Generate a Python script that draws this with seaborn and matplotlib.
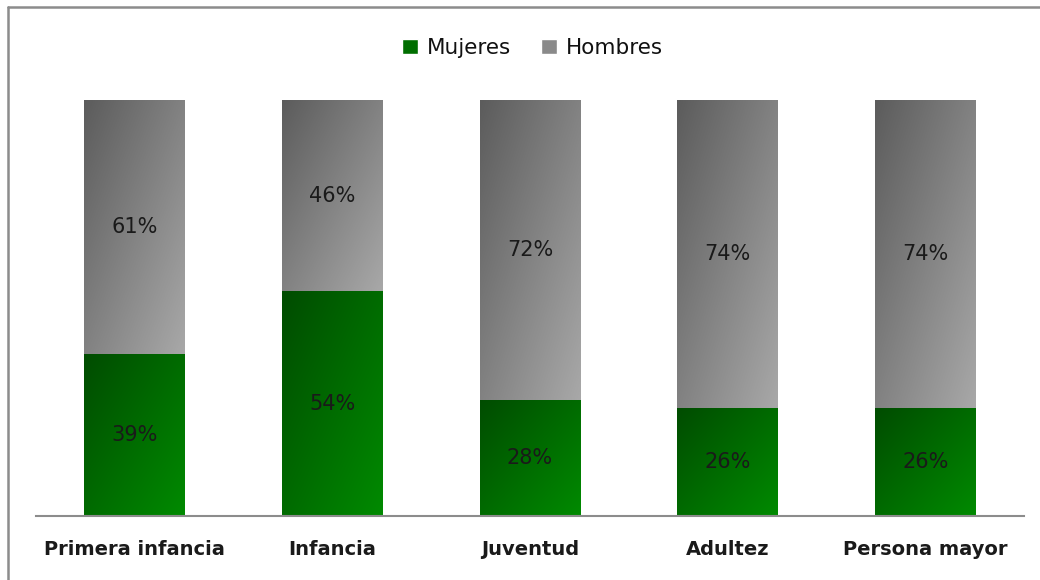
import numpy as np
import pandas as pd
import matplotlib
matplotlib.use("Agg")
import matplotlib.pyplot as plt
import seaborn as sns
from matplotlib.patches import Patch
from matplotlib.lines import Line2D
from matplotlib.colors import LinearSegmentedColormap

categories = ["Primera infancia", "Infancia", "Juventud", "Adultez", "Persona mayor"]
mujeres = [39, 54, 28, 26, 26]
hombres = [61, 46, 72, 74, 74]

df = pd.DataFrame({"Grupo": categories, "Mujeres": mujeres, "Hombres": hombres})
df["Total"] = df["Mujeres"] + df["Hombres"]

sns.set_style("white")
plt.rcParams["font.family"] = ["DejaVu Sans"]

fig = plt.figure(figsize=(10.4, 5.8), dpi=100)
ax = fig.add_axes([36 / 1040, 64 / 580, 988 / 1040, 416 / 580])

# stacked bars: total first (hombres on top), then mujeres
sns.barplot(data=df, x="Grupo", y="Total", color="#8a8a8a", width=0.51,
            saturation=1, ax=ax)
sns.barplot(data=df, x="Grupo", y="Mujeres", color="#007000", width=0.51,
            saturation=1, ax=ax)

gray_cmap = LinearSegmentedColormap.from_list("g", ["#5c5c5c", "#a8a8a8"])
green_cmap = LinearSegmentedColormap.from_list("v", ["#004c00", "#008a00"])

n = len(categories)
bars = list(ax.patches)
for i, p in enumerate(bars):
    cmap = gray_cmap if i < n else green_cmap
    x0, y0 = p.get_x(), p.get_y()
    w, h = p.get_width(), p.get_height()
    if i < n:
        # gray part only above the green segment
        y0 = mujeres[i]
        h = hombres[i]
    u, v = np.meshgrid(np.linspace(0, 1, 60), np.linspace(0, 1, 120))
    grad = (u + v) / 2  # dark at top-left, light at bottom-right
    im = ax.imshow(grad, cmap=cmap, extent=(x0, x0 + w, y0, y0 + h),
                   aspect="auto", origin="upper", zorder=2, interpolation="bilinear")
    clip = plt.Rectangle((x0, y0), w, h, transform=ax.transData)
    im.set_clip_path(clip)
    p.set_visible(False)

for i in range(n):
    ax.text(i, mujeres[i] / 2, f"{mujeres[i]}%", ha="center", va="center",
            fontsize=15, color="#1a1a1a", zorder=5)
    ax.text(i, mujeres[i] + hombres[i] / 2, f"{hombres[i]}%", ha="center",
            va="center", fontsize=15, color="#1a1a1a", zorder=5)

ax.set_xlim(-0.5, n - 0.5)
ax.set_ylim(0, 100)
ax.set_yticks([])
ax.set_xlabel("")
ax.set_ylabel("")
ax.tick_params(axis="x", length=0, pad=17)
for lab in ax.get_xticklabels():
    lab.set_fontweight("bold")
    lab.set_fontsize(14)
    lab.set_color("#1a1a1a")
for s in ["top", "right", "left"]:
    ax.spines[s].set_visible(False)
ax.spines["bottom"].set_color("#8c8c8c")
ax.spines["bottom"].set_linewidth(1.5)

handles = [Patch(facecolor="#006e00", label="Mujeres"),
           Patch(facecolor="#8a8a8a", label="Hombres")]
fig.legend(handles=handles, loc="center", bbox_to_anchor=(0.512, 1 - 48 / 580),
           ncol=2, frameon=False, fontsize=15.5, handlelength=0.75,
           handleheight=0.75, handletextpad=0.4, columnspacing=1.4,
           labelcolor="#111111")

# outer frame
fig.add_artist(Line2D([8 / 1040, 8 / 1040], [0, 1 - 7 / 580], color="#8c8c8c",
                      lw=1.8, transform=fig.transFigure))
fig.add_artist(Line2D([8 / 1040, 1], [1 - 7 / 580, 1 - 7 / 580], color="#8c8c8c",
                      lw=1.8, transform=fig.transFigure))

fig.savefig("out.png", dpi=100)
